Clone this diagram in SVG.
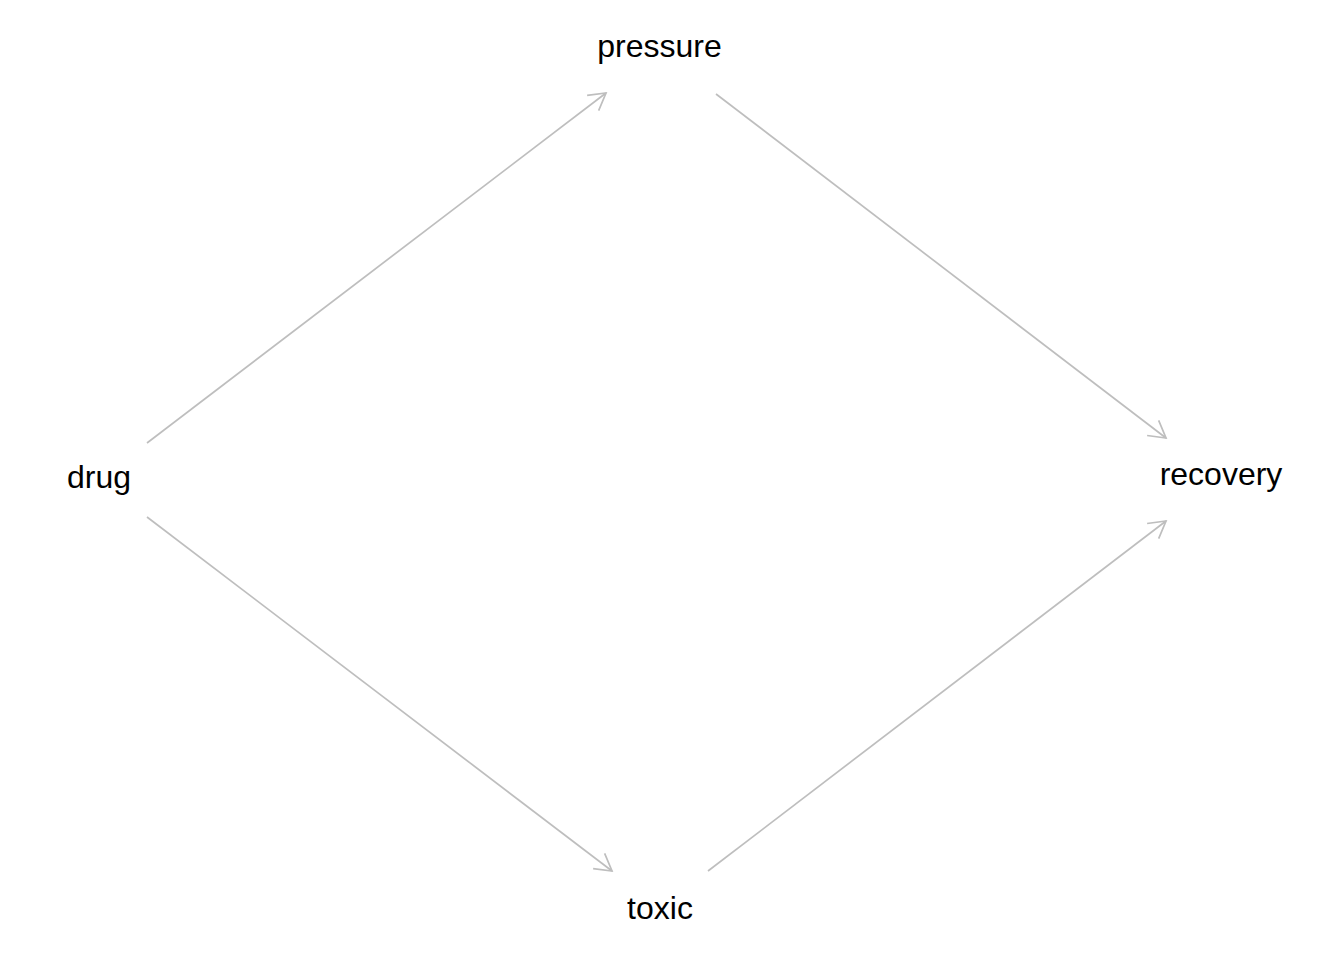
<svg xmlns="http://www.w3.org/2000/svg" width="1344" height="960" viewBox="0 0 1344 960">
<style>
.lbl{font-family:"Liberation Sans",Arial,sans-serif;font-size:32px;fill:#000;text-anchor:middle}
.edge{stroke:#bebebe;stroke-width:1.7;fill:none}
</style>
<defs>
<marker id="arr" markerUnits="userSpaceOnUse" orient="auto" markerWidth="40" markerHeight="40" refX="0" refY="0" viewBox="-20 -20 40 40" overflow="visible">
<path d="M-16.5,-9.5 L0,0 L-16.5,9.5" fill="none" stroke="#bebebe" stroke-width="1.7"/>
</marker>
</defs>
<rect width="1344" height="960" fill="#fff"/>
<g id="connectors">
<line class="edge" x1="147" y1="443" x2="606" y2="93" marker-end="url(#arr)"/>
<line class="edge" x1="716" y1="94" x2="1166" y2="438" marker-end="url(#arr)"/>
<line class="edge" x1="147" y1="517" x2="612" y2="871" marker-end="url(#arr)"/>
<line class="edge" x1="708" y1="871" x2="1166" y2="521" marker-end="url(#arr)"/>
</g>
<g id="node-pressure"><text class="lbl" x="659.5" y="57">pressure</text></g>
<g id="node-drug"><text class="lbl" x="99" y="488">drug</text></g>
<g id="node-recovery"><text class="lbl" x="1221" y="485">recovery</text></g>
<g id="node-toxic"><text class="lbl" x="660" y="919">toxic</text></g>
</svg>
